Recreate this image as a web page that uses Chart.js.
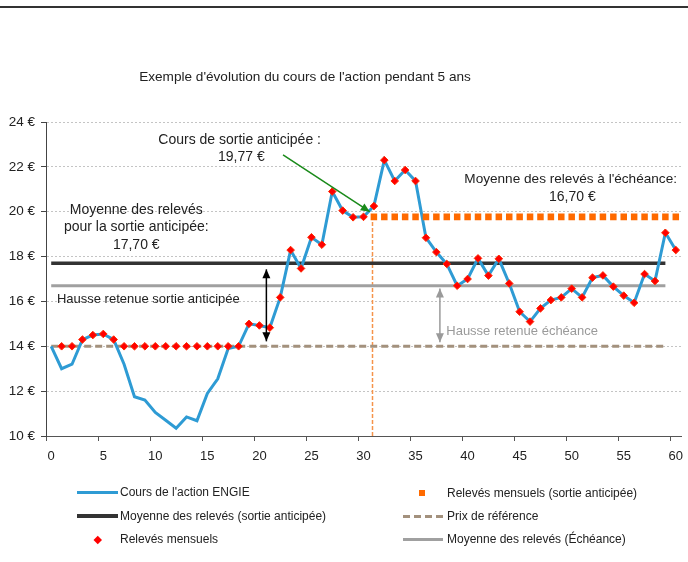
<!DOCTYPE html>
<html>
<head>
<meta charset="utf-8">
<script src="https://cdn.jsdelivr.net/npm/chart.js@4.4.1/dist/chart.umd.min.js"></script>
<style>
  html, body { margin: 0; padding: 0; background: #fff; }
  #wrap { position: relative; width: 688px; height: 562px; font-family: "Liberation Sans", Arial, sans-serif; color: #222; }
  #topline { position: absolute; left: 0; top: 6px; width: 688px; height: 2px; background: #333; }
  #title { position: absolute; top: 69px; left: 0; width: 610px; text-align: center; font-size: 13.6px; line-height: 16px; }
  canvas { position: absolute; left: 0; top: 0; }
  .lg { position: absolute; font-size: 12px; line-height: 14px; white-space: nowrap; color: #222; }
  .sym { position: absolute; }
</style>
</head>
<body>
<div id="wrap">
  <canvas id="chart" width="688" height="562"></canvas>
  <div id="topline"></div>
  <div id="title">Exemple d'évolution du cours de l'action pendant 5 ans</div>

  <div class="sym" style="left:77px;top:491px;width:41px;height:3px;background:#2e9bd4"></div>
  <div class="lg" style="left:120px;top:485px">Cours de l'action ENGIE</div>
  <div class="sym" style="left:77px;top:514px;width:41px;height:3.5px;background:#333"></div>
  <div class="lg" style="left:120px;top:509px">Moyenne des relevés (sortie anticipée)</div>
  <div class="sym" style="left:94.5px;top:536.5px;width:5.5px;height:5.5px;background:#ff0000;transform:rotate(45deg)"></div>
  <div class="lg" style="left:120px;top:532px">Relevés mensuels</div>

  <div class="sym" style="left:419px;top:490px;width:6px;height:6px;background:#ff6a00"></div>
  <div class="lg" style="left:447px;top:486px">Relevés mensuels (sortie anticipée)</div>
  <div class="sym" style="left:403px;top:514.5px;width:40px;height:3px;background:repeating-linear-gradient(to right,#a3917d 0 7px,transparent 7px 11px)"></div>
  <div class="lg" style="left:447px;top:509px">Prix de référence</div>
  <div class="sym" style="left:403px;top:538px;width:40px;height:3px;background:#a0a0a0"></div>
  <div class="lg" style="left:447px;top:532px">Moyenne des relevés (Échéance)</div>
</div>

<script>
// mois 0..60
const months = Array.from({ length: 61 }, (_, i) => String(i));
const xTickLabels = [0, 5, 10, 15, 20, 25, 30, 35, 40, 45, 50, 55, 60];
const yTicks = [10, 12, 14, 16, 18, 20, 22, 24];

// cours de l'action, mois 0 à 60
const coursEngie = [
  14.0, 13.0, 13.2, 14.3, 14.5, 14.55, 14.3, 13.2, 11.75, 11.6,
  11.05, 10.7, 10.35, 10.85, 10.68, 11.9, 12.55, 13.9, 14.0, 15.0,
  14.93, 14.83, 16.18, 18.29, 17.47, 18.86, 18.53, 20.9, 20.05, 19.75,
  19.77, 20.25, 22.3, 21.37, 21.86, 21.37, 18.84, 18.2, 17.67, 16.7,
  17.0, 17.92, 17.15, 17.9, 16.8, 15.54, 15.1, 15.69, 16.06, 16.18,
  16.57, 16.18, 17.06, 17.16, 16.66, 16.26, 15.94, 17.22, 16.91, 19.06,
  18.29
];

// relevés mensuels (cours retenu, plancher au prix de référence)
const relevesMensuels = [
  null, 14.0, 14.0, 14.3, 14.5, 14.55, 14.3, 14.0, 14.0, 14.0,
  14.0, 14.0, 14.0, 14.0, 14.0, 14.0, 14.0, 14.0, 14.0, 15.0,
  14.93, 14.83, 16.18, 18.29, 17.47, 18.86, 18.53, 20.9, 20.05, 19.75,
  19.77, 20.25, 22.3, 21.37, 21.86, 21.37, 18.84, 18.2, 17.67, 16.7,
  17.0, 17.92, 17.15, 17.9, 16.8, 15.54, 15.1, 15.69, 16.06, 16.18,
  16.57, 16.18, 17.06, 17.16, 16.66, 16.26, 15.94, 17.22, 16.91, 19.06,
  18.29
];

const coursSortie = 19.77;      // cours de sortie anticipée
const moisSortie = 31;          // premiers relevés remplacés
const moyenneSortie = 17.70;
const moyenneEcheance = 16.70;
const prixReference = 14;
const finMoyennes = 59;

const relevesSortie = months.map((m, i) => (i >= moisSortie ? coursSortie : null));
const flat = v => months.map((m, i) => (i <= finMoyennes ? v : null));

const FONT = '"Liberation Sans", Arial, sans-serif';

// textes et flèches, positionnés en coordonnées du graphique (mois, €)
const notes = [
  { text: 'Cours de sortie anticipée :', x: 18.1, y: 23.2, align: 'center' },
  { text: '19,77 €', x: 18.27, y: 22.42, align: 'center' },
  { text: 'Moyenne des relevés', x: 8.17, y: 20.08, align: 'center' },
  { text: 'pour la sortie anticipée:', x: 8.17, y: 19.3, align: 'center' },
  { text: '17,70 €', x: 8.17, y: 18.52, align: 'center' },
  { text: 'Hausse retenue sortie anticipée', x: 0.55, y: 16.1, align: 'left', size: 13 },
  { text: "Moyenne des relevés à l'échéance:", x: 49.9, y: 21.44, align: 'center', size: 13.6 },
  { text: '16,70 €', x: 50.06, y: 20.67, align: 'center' },
  { text: 'Hausse retenue échéance', x: 37.95, y: 14.65, align: 'left', size: 13, color: '#9a9a9a' }
];

const arrows = [
  { x1: 22.27, y1: 22.53, x2: 30.6, y2: 20.0, color: '#1a8a1a', both: false },
  { x1: 20.67, y1: 17.43, x2: 20.67, y2: 14.22, color: '#000', both: true },
  { x1: 37.34, y1: 16.58, x2: 37.34, y2: 14.18, color: '#9a9a9a', both: true }
];

function head(ctx, x1, y1, x2, y2, len, w) {
  const a = Math.atan2(y2 - y1, x2 - x1);
  ctx.beginPath();
  ctx.moveTo(x2, y2);
  ctx.lineTo(x2 - len * Math.cos(a) + w * Math.sin(a), y2 - len * Math.sin(a) - w * Math.cos(a));
  ctx.lineTo(x2 - len * Math.cos(a) - w * Math.sin(a), y2 - len * Math.sin(a) + w * Math.cos(a));
  ctx.closePath();
  ctx.fill();
}

const annotations = {
  id: 'annotations',
  beforeDatasetsDraw(chart) {
    const { ctx, scales: { x, y } } = chart;
    const px = Math.round(x.getPixelForValue(30.83)) + 0.5;
    ctx.save();
    ctx.strokeStyle = '#f5934a';
    ctx.lineWidth = 1.5;
    ctx.setLineDash([4, 2]);
    ctx.beginPath();
    ctx.moveTo(px, y.getPixelForValue(10));
    ctx.lineTo(px, y.getPixelForValue(coursSortie));
    ctx.stroke();
    ctx.restore();
  },
  afterDatasetsDraw(chart) {
    const { ctx, scales: { x, y } } = chart;
    ctx.save();
    arrows.forEach(a => {
      const x1 = x.getPixelForValue(a.x1), y1 = y.getPixelForValue(a.y1);
      const x2 = x.getPixelForValue(a.x2), y2 = y.getPixelForValue(a.y2);
      ctx.strokeStyle = a.color;
      ctx.fillStyle = a.color;
      ctx.lineWidth = 1.5;
      ctx.beginPath();
      ctx.moveTo(x1, y1);
      ctx.lineTo(x2, y2);
      ctx.stroke();
      head(ctx, x1, y1, x2, y2, 9, 4);
      if (a.both) head(ctx, x2, y2, x1, y1, 9, 4);
    });
    ctx.textBaseline = 'middle';
    notes.forEach(n => {
      ctx.font = (n.size || 14) + 'px ' + FONT;
      ctx.fillStyle = n.color || '#222';
      ctx.textAlign = n.align;
      ctx.fillText(n.text, x.getPixelForValue(n.x), y.getPixelForValue(n.y));
    });
    ctx.restore();
  }
};

new Chart(document.getElementById('chart'), {
  type: 'line',
  data: {
    labels: months,
    datasets: [
      {
        label: 'Relevés mensuels',
        data: relevesMensuels,
        showLine: false,
        pointStyle: 'rectRot',
        pointRadius: 3.8,
        backgroundColor: '#ff0000',
        borderColor: '#ff2a00',
        pointBorderWidth: 1
      },
      {
        label: 'Relevés mensuels (sortie anticipée)',
        data: relevesSortie,
        showLine: false,
        pointStyle: 'rect',
        pointRadius: 4.6,
        backgroundColor: '#ff6a00',
        borderColor: '#ff6a00',
        pointBorderWidth: 0
      },
      {
        label: "Cours de l'action ENGIE",
        data: coursEngie,
        borderColor: '#2e9bd4',
        borderWidth: 3,
        pointRadius: 0,
        tension: 0
      },
      {
        label: 'Moyenne des relevés (sortie anticipée)',
        data: flat(moyenneSortie),
        borderColor: '#333333',
        borderWidth: 3.5,
        pointRadius: 0
      },
      {
        label: 'Moyenne des relevés (Échéance)',
        data: flat(moyenneEcheance),
        borderColor: '#a0a0a0',
        borderWidth: 3,
        pointRadius: 0
      },
      {
        label: 'Prix de référence',
        data: flat(prixReference),
        borderColor: '#a3917d',
        borderWidth: 3,
        borderDash: [7, 4],
        pointRadius: 0
      }
    ]
  },
  options: {
    responsive: false,
    animation: false,
    devicePixelRatio: 1,
    layout: { padding: { top: 122, right: 7, left: 0, bottom: 0 } },
    plugins: { legend: { display: false }, tooltip: { enabled: false }, title: { display: false } },
    scales: {
      x: {
        type: 'category',
        offset: true,
        grid: {
          offset: true,
          drawOnChartArea: false,
          drawTicks: true,
          tickLength: 5,
          tickColor: c => (c.index % 5 === 0 ? '#555' : 'rgba(0,0,0,0)')
        },
        border: { color: '#555', width: 1 },
        ticks: {
          autoSkip: false,
          maxRotation: 0,
          padding: 8,
          color: '#222',
          font: { size: 13, family: FONT },
          callback: (v, i) => (xTickLabels.includes(i) ? String(i) : '')
        },
        afterFit: s => { s.height = 126; s.paddingLeft = 0; s.paddingRight = 0; }
      },
      y: {
        min: 10,
        max: 24,
        afterBuildTicks: s => { s.ticks = yTicks.map(v => ({ value: v })); },
        grid: { color: '#c4c4c4', lineWidth: 1, tickColor: '#444', tickLength: 5 },
        border: { display: true, color: '#444', width: 1, dash: [2, 2] },
        ticks: {
          padding: 6,
          color: '#222',
          font: { size: 13.5, family: FONT },
          callback: v => v + ' €'
        },
        afterFit: s => { s.width = 46; }
      }
    }
  },
  plugins: [annotations]
});
</script>
</body>
</html>
